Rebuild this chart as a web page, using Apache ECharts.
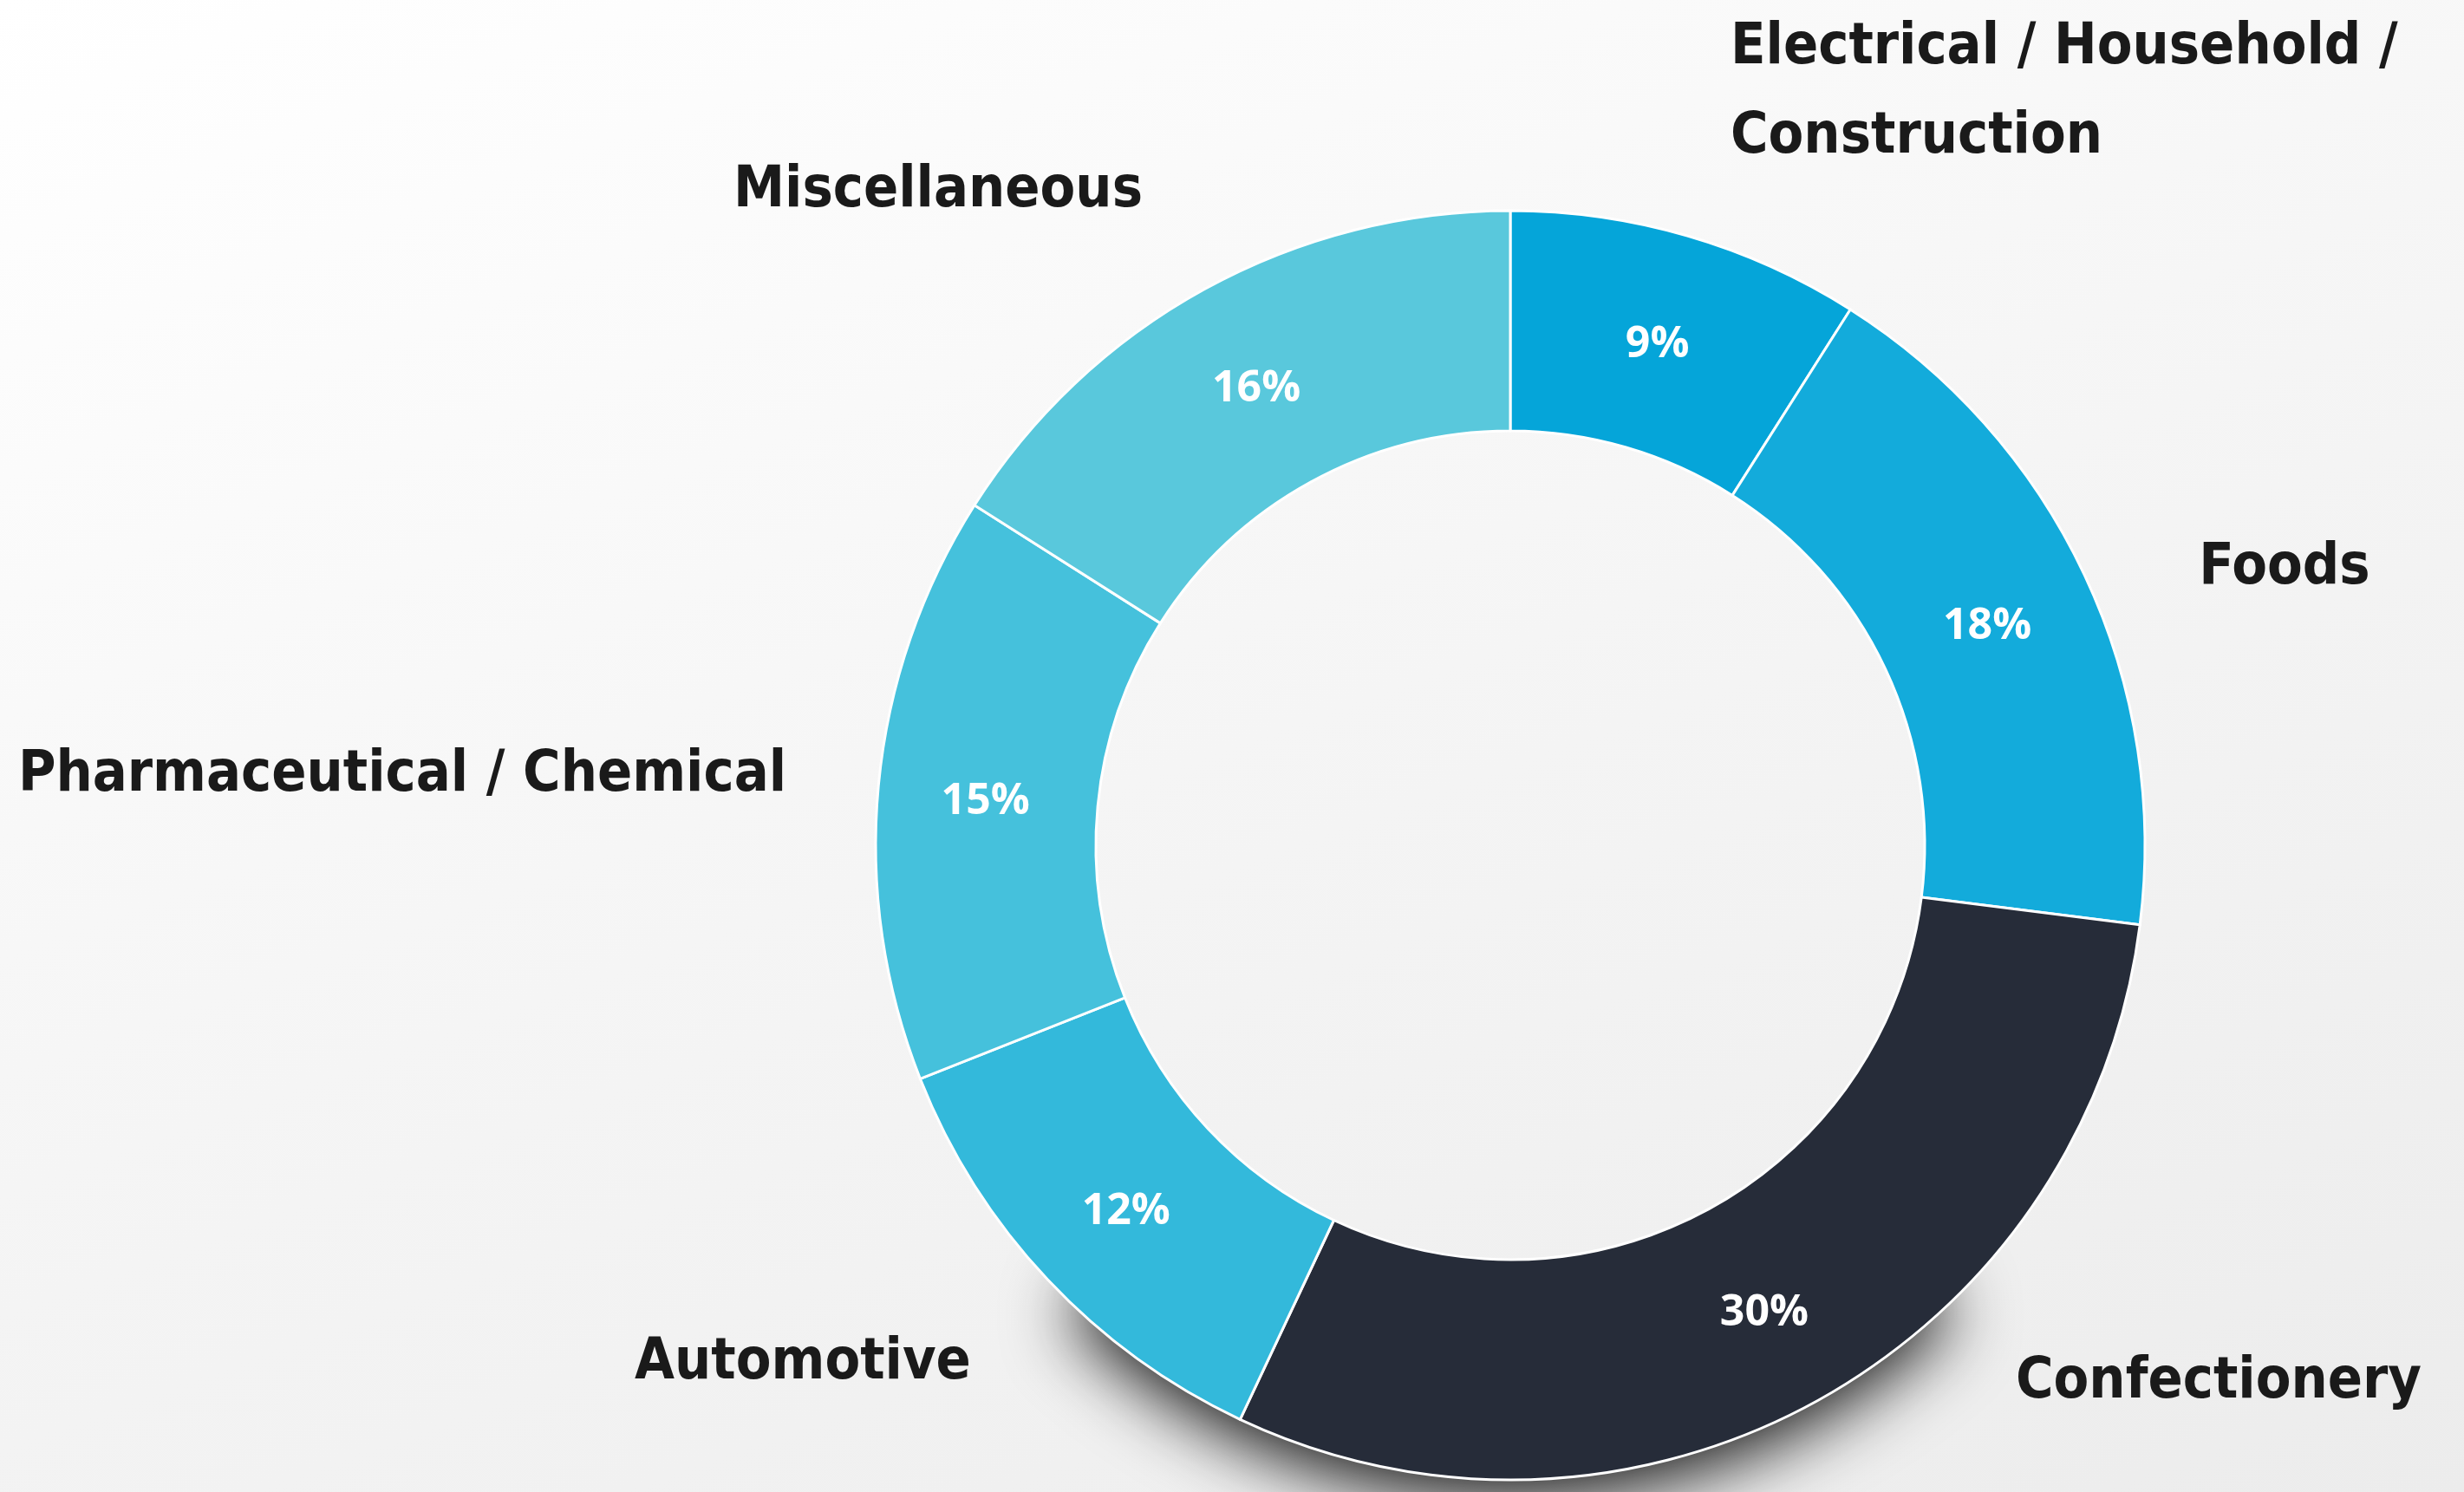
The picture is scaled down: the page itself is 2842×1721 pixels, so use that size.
<!DOCTYPE html>
<html>
<head>
<meta charset="utf-8">
<script src="https://cdn.jsdelivr.net/npm/echarts@6/dist/echarts.min.js"></script>
<style>
  html, body { margin: 0; padding: 0; }
  body { background: linear-gradient(160deg, #ffffff 0%, #f4f4f4 55%, #ececec 100%); }
  #chart { width: 2842px; height: 1721px; }
</style>
</head>
<body>
<div id="chart"></div>
<script>
// sectors, clockwise from 12 o'clock
var categories = ['Electrical / Household / Construction', 'Foods', 'Confectionery', 'Automotive', 'Pharmaceutical / Chemical', 'Miscellaneous'];
var shares = [9, 18, 30, 12, 15, 16];
var colors = ['#05a5d9', '#13abdb', '#262c39', '#33b9db', '#45c1dc', '#59c8dc'];

// where the outside names sit: [x, y, align]
var namePos = [
  [1996, 107, 'left'],
  [2635, 656, 'center'],
  [2559, 1595, 'center'],
  [926, 1573, 'center'],
  [464, 895, 'center'],
  [1082, 221, 'center']
];

var ringCenter = [1742, 975];
var ringRadius = [478, 732];

var chart = echarts.init(document.getElementById('chart'));

var ringData = categories.map(function (name, i) {
  return { name: name, value: shares[i], itemStyle: { color: colors[i] } };
});

var nameData = categories.map(function (name, i) {
  var item = { name: name, value: shares[i], label: { width: 1000 } };
  if (i === 0) item.label = { width: 830, overflow: 'break' };
  return item;
});

chart.setOption({
  backgroundColor: 'transparent',
  // soft drop shadow under the lower part of the ring
  graphic: [{
    type: 'sector',
    z: 0,
    silent: true,
    shape: {
      cx: ringCenter[0], cy: ringCenter[1],
      r: ringRadius[1] - 8, r0: ringRadius[0] + 90,
      startAngle: Math.PI * 0.25, endAngle: Math.PI * 0.75
    },
    style: {
      fill: '#262c39',
      shadowBlur: 80,
      shadowOffsetY: 30,
      shadowColor: 'rgba(0,0,0,0.9)'
    }
  }],
  series: [
    {
      type: 'pie',
      z: 3,
      center: ringCenter,
      radius: ringRadius,
      startAngle: 90,
      clockwise: true,
      silent: true,
      itemStyle: { borderColor: '#ffffff', borderWidth: 3 },
      label: {
        position: 'inside',
        formatter: '{c}%',
        color: '#ffffff',
        fontFamily: '"Open Sans", sans-serif',
        fontWeight: 'bold',
        fontSize: 50,
        offset: [0, 7]
      },
      labelLine: { show: false },
      data: ringData
    },
    {
      type: 'pie',
      z: 3,
      center: ringCenter,
      radius: ringRadius,
      startAngle: 90,
      clockwise: true,
      silent: true,
      itemStyle: { color: 'rgba(0,0,0,0)' },
      label: {
        position: 'outside',
        formatter: '{b}',
        color: '#1a1a1a',
        fontFamily: '"DejaVu Sans Condensed", "Liberation Sans Narrow", sans-serif',
        fontWeight: 'bold',
        fontSize: 66,
        lineHeight: 103
      },
      labelLine: { show: false },
      labelLayout: function (params) {
        var p = namePos[params.dataIndex];
        return { x: p[0], y: p[1], align: p[2], verticalAlign: 'middle' };
      },
      data: nameData
    }
  ]
});
</script>
</body>
</html>
